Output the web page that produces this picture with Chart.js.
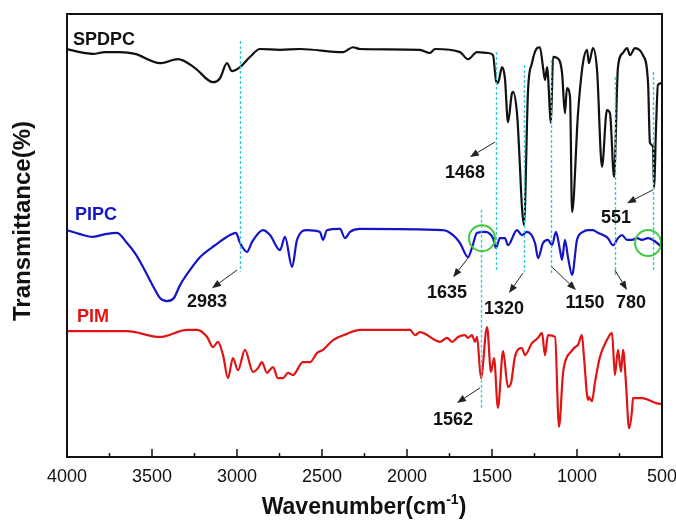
<!DOCTYPE html>
<html><head><meta charset="utf-8">
<script src="https://cdn.jsdelivr.net/npm/chart.js@4.4.0/dist/chart.umd.min.js"></script>
<style>html,body{margin:0;padding:0;background:#fff;}canvas{display:block;}</style>
</head><body>
<canvas id="c" width="676" height="524"></canvas>
<script>
const FONT = "'Liberation Sans', Arial, sans-serif";
const xTickValues = [4000,3500,3000,2500,2000,1500,1000,500];
const xMinorTicks = [3750,3250,2750,2250,1750,1250,750];
const seriesNames = ['SPDPC','PIPC','PIM'];
const seriesColors = ['#111111','#1414c8','#e01414'];

const spdpcWn = [4000,3924,3847,3776,3688,3600,3453,3347,3247,3141,3100,3059,3030,2982,2924,2865,2747,2629,2376,2318,2277,1924,1865,1835,1688,1641,1588,1524,1494,1477,1465,1441,1424,1406,1382,1376,1353,1312,1288,1265,1235,1218,1200,1188,1176,1153,1141,1118,1088,1071,1059,1041,1029,994,965,941,930,906,882,853,824,806,782,759,730,706,688,659,612,582,571,553,547,535,524,500];
const spdpcT  = [92.1,91.4,91.0,91.4,91.4,91.0,88.9,89.8,87.8,84.6,85.5,88.9,87.1,88.0,90.3,92.1,91.9,92.1,91.4,92.5,92.1,91.9,91.2,92.1,91.4,89.8,91.4,91.2,90.7,85.1,84.4,88.0,85.5,75.6,82.2,82.4,77.6,52.4,82.8,88.9,92.3,92.5,88.0,85.1,88.0,75.4,90.3,90.1,86.7,77.6,83.3,81.3,55.3,77.6,88.9,91.9,88.9,92.3,87.3,65.5,78.3,77.6,63.2,88.0,91.2,92.3,90.7,92.3,90.7,84.4,70.9,70.0,60.9,74.5,84.0,84.4];

const pipcWn = [4000,3924,3847,3776,3706,3647,3600,3553,3500,3453,3412,3371,3335,3277,3218,3129,3041,3006,2982,2941,2912,2847,2806,2747,2718,2676,2647,2588,2512,2494,2471,2394,2365,2335,2277,1788,1729,1688,1641,1618,1588,1541,1494,1477,1453,1424,1406,1353,1324,1294,1247,1229,1200,1171,1147,1124,1100,1088,1071,1053,1029,1000,965,935,906,877,847,818,788,759,735,706,676,647,618,582,553,512,500];
const pipcT  = [51.2,50.3,49.7,50.3,50.6,48.3,46.0,42.9,39.0,35.9,35.2,35.9,38.8,42.2,45.1,47.8,50.1,50.6,48.3,46.3,48.5,51.2,50.1,46.7,49.7,42.9,49.0,51.2,50.8,49.0,51.2,51.5,49.4,50.8,51.5,51.2,50.1,48.3,45.1,47.2,50.6,50.8,49.4,47.2,49.4,49.4,47.8,51.2,50.1,50.8,48.3,44.9,48.3,49.0,47.8,50.8,46.7,44.5,49.0,45.1,41.1,49.0,50.8,51.2,51.2,50.6,50.1,49.4,47.8,49.4,50.1,49.0,49.0,49.4,49.0,49.4,49.0,47.8,47.6];

const pimWn = [4000,3647,3453,3294,3235,3176,3141,3112,3082,3053,3024,2994,2953,2906,2876,2853,2824,2788,2759,2729,2700,2671,2612,2571,2529,2494,2435,2353,2277,1982,1953,1924,1806,1765,1735,1700,1659,1641,1618,1600,1588,1565,1529,1506,1488,1465,1435,1406,1388,1365,1324,1306,1265,1229,1206,1188,1171,1129,1106,1082,1059,1041,1012,994,971,959,935,930,912,894,865,824,794,777,759,741,729,712,694,676,671,618,512,500];
const pimT  = [28.4,28.4,27.1,28.7,28.7,27.1,24.8,26.0,23.0,17.8,22.3,19.6,24.2,19.2,20.1,21.4,19.0,20.3,17.8,17.8,19.0,18.5,21.4,21.4,23.5,24.2,26.4,27.8,28.7,28.7,27.5,28.2,26.0,26.9,26.0,27.1,27.5,26.9,27.5,26.0,27.1,17.8,29.3,19.2,22.3,11.1,23.9,15.8,16.7,22.6,24.6,23.0,25.7,26.9,28.0,23.0,27.5,27.1,6.8,19.0,22.6,23.5,24.8,25.3,27.5,22.6,12.9,13.5,12.6,16.9,22.6,26.4,28.0,18.5,24.2,19.2,24.2,16.7,6.5,10.6,13.3,13.3,12.0,12.0];

// series name labels: [wavenumber, T]
const nameAt = [[3965,94.1],[3953,54.6],[3941,31.6]];

// cyan dashed marker lines
const markerWn     = [2983, 1474, 1312, 1153, 777, 553, 1565];
const markerTop    = [93.9, 91.4, 88.5, 89.6, 85.8, 86.9, 55.8];
const markerBottom = [41.8, 42.2, 41.8, 41.1, 40.6, 41.8, 10.6];

// peak annotations
const annoText  = ['1468','551','2983','1635','1320','1150','780','1562'];
const annoFrom  = [[1482,71.1],[553,60.3],[3000,42.2],[1641,44.9],[1318,41.5],[1147,42.9],[777,42.2],[1571,15.6]];
const annoTo    = [[1630,67.7],[706,57.3],[3147,38.1],[1729,40.6],[1400,37.0],[1006,37.7],[706,37.7],[1706,12.2]];
const annoLabel = [[1659,64.1],[771,53.9],[3176,35.0],[1765,37.0],[1429,33.4],[953,34.8],[682,34.8],[1729,8.4]];

// green circles
const circleAt = [[1559,49.4],[582,48.3]];

function pts(w, t){ return w.map((v,i)=>({x:v, y:t[i]})); }

const overlay = {
  id:'overlay',
  afterDatasetsDraw(chart){
    const {ctx, chartArea:a, scales:{x, y}} = chart;
    ctx.save();
    // cyan dashed lines
    ctx.strokeStyle = '#3cc8dc'; ctx.lineWidth = 1.4; ctx.setLineDash([3,2]);
    markerWn.forEach((w,i)=>{
      const px = Math.round(x.getPixelForValue(w))+0.5;
      ctx.beginPath();
      ctx.moveTo(px, y.getPixelForValue(markerTop[i]));
      ctx.lineTo(px, y.getPixelForValue(markerBottom[i]));
      ctx.stroke();
    });
    ctx.setLineDash([]);
    // arrows
    ctx.strokeStyle = '#222'; ctx.fillStyle = '#222'; ctx.lineWidth = 1;
    annoFrom.forEach((f,i)=>{
      const x0 = x.getPixelForValue(f[0]), y0 = y.getPixelForValue(f[1]);
      const x1 = x.getPixelForValue(annoTo[i][0]), y1 = y.getPixelForValue(annoTo[i][1]);
      const ang = Math.atan2(y1-y0, x1-x0);
      const L = 9, W = 3.5;
      const bx = x1 - L*Math.cos(ang), by = y1 - L*Math.sin(ang);
      ctx.beginPath(); ctx.moveTo(x0,y0); ctx.lineTo(bx,by); ctx.stroke();
      ctx.beginPath();
      ctx.moveTo(x1,y1);
      ctx.lineTo(bx + W*Math.sin(ang), by - W*Math.cos(ang));
      ctx.lineTo(bx - W*Math.sin(ang), by + W*Math.cos(ang));
      ctx.closePath(); ctx.fill();
    });
    // annotation labels
    ctx.fillStyle = '#111'; ctx.font = 'bold 18px ' + FONT;
    ctx.textAlign = 'center'; ctx.textBaseline = 'middle';
    annoText.forEach((t,i)=>{
      ctx.fillText(t, x.getPixelForValue(annoLabel[i][0]), y.getPixelForValue(annoLabel[i][1]));
    });
    // green circles
    ctx.strokeStyle = '#3ccc3c'; ctx.lineWidth = 2;
    circleAt.forEach(c=>{
      ctx.beginPath();
      ctx.arc(x.getPixelForValue(c[0]), y.getPixelForValue(c[1]), 13, 0, Math.PI*2);
      ctx.stroke();
    });
    // series names
    ctx.textAlign = 'left';
    seriesNames.forEach((n,i)=>{
      ctx.fillStyle = seriesColors[i];
      ctx.fillText(n, x.getPixelForValue(nameAt[i][0]), y.getPixelForValue(nameAt[i][1]));
    });
    ctx.restore();
  },
  afterDraw(chart){
    const {ctx, chartArea:a, scales:{x}} = chart;
    ctx.save();
    // frame
    ctx.strokeStyle = '#111'; ctx.lineWidth = 2;
    ctx.strokeRect(a.left, a.top, a.right-a.left, a.bottom-a.top);
    // inward ticks
    ctx.lineWidth = 1.5;
    xTickValues.forEach(v=>{
      const px = x.getPixelForValue(v);
      ctx.beginPath(); ctx.moveTo(px, a.bottom); ctx.lineTo(px, a.bottom-8); ctx.stroke();
    });
    xMinorTicks.forEach(v=>{
      const px = x.getPixelForValue(v);
      ctx.beginPath(); ctx.moveTo(px, a.bottom); ctx.lineTo(px, a.bottom-4); ctx.stroke();
    });
    // axis titles
    ctx.fillStyle = '#111';
    ctx.textBaseline = 'alphabetic';
    const mainF = 'bold 23px ' + FONT, supF = 'bold 14px ' + FONT;
    const p1 = 'Wavenumber(cm', p2 = '-1', p3 = ')';
    ctx.font = mainF; const w1 = ctx.measureText(p1).width, w3 = ctx.measureText(p3).width;
    ctx.font = supF; const w2 = ctx.measureText(p2).width;
    const total = w1 + w2 + w3;
    let sx = 364 - total/2; const base = 514;
    ctx.textAlign = 'left';
    ctx.font = mainF; ctx.fillText(p1, sx, base); sx += w1;
    ctx.font = supF; ctx.fillText(p2, sx, base - 10); sx += w2;
    ctx.font = mainF; ctx.fillText(p3, sx, base);
    ctx.translate(23, 221); ctx.rotate(-Math.PI/2);
    ctx.textAlign = 'center'; ctx.textBaseline = 'middle';
    ctx.font = 'bold 24px ' + FONT; ctx.fillText('Transmittance(%)', 0, 0);
    ctx.restore();
  }
};

const datasets = [pts(spdpcWn, spdpcT), pts(pipcWn, pipcT), pts(pimWn, pimT)].map((d,i)=>({
  label: seriesNames[i], data: d, borderColor: seriesColors[i], borderWidth: 2.2,
  pointRadius: 0, fill: false, cubicInterpolationMode: 'monotone'
}));

new Chart(document.getElementById('c'), {
  type: 'line',
  data: { datasets },
  options: {
    responsive: false, animation: false, parsing: true,
    layout: { padding: { left: 0, right: 14, top: 14, bottom: 0 } },
    plugins: { legend: { display: false }, tooltip: { enabled: false } },
    scales: {
      x: {
        type: 'linear', reverse: true, min: 500, max: 4000,
        afterBuildTicks: s => { s.ticks = xTickValues.map(v => ({ value: v })); },
        afterFit: s => { s.height = 67; s.paddingLeft = 0; s.paddingRight = 0; },
        grid: { display: false, drawTicks: false },
        border: { display: false },
        ticks: { autoSkip: false, maxRotation: 0, padding: 9, color: '#111',
                 font: { family: FONT, size: 18 }, callback: v => String(v) }
      },
      y: {
        min: 0, max: 100,
        afterFit: s => { s.width = 67; s.paddingTop = 0; s.paddingBottom = 0; },
        grid: { display: false, drawTicks: false },
        border: { display: false },
        ticks: { display: false }
      }
    }
  },
  plugins: [overlay]
});
</script>
</body></html>
